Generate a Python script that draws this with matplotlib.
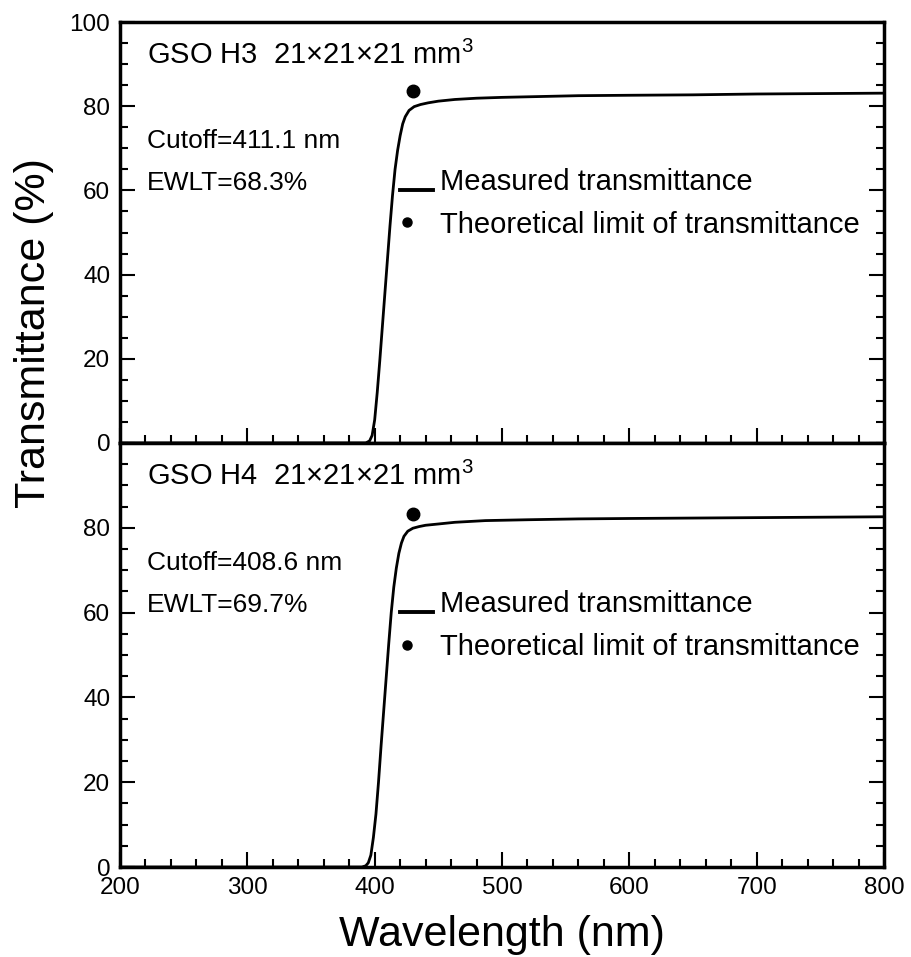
import numpy as np
import matplotlib
matplotlib.use("Agg")
from matplotlib import pyplot as plt
from matplotlib.lines import Line2D
from matplotlib.legend_handler import HandlerLine2D
from matplotlib.ticker import MultipleLocator

plt.rcParams['font.family'] = ['Liberation Sans', 'DejaVu Sans']
plt.rcParams['mathtext.fontset'] = 'custom'
plt.rcParams['mathtext.rm'] = 'Liberation Sans'

# GSO H3 - izmerjena prepustnost
wl_h3 = [200, 300, 380, 393, 396, 398, 400, 402, 404, 406, 408, 410, 412, 414, 416, 418, 420, 422,
         424, 427, 431, 436, 442, 450, 463, 480, 500, 530, 560, 600, 650, 700, 750, 800]
tr_h3 = [0, 0, 0, 0, 0.5, 1.8, 5.5, 12.0, 19.5, 27.5, 35.5, 43.5, 51.5, 58.8, 65.0, 69.5, 73.0, 75.8,
         77.5, 79.0, 79.9, 80.4, 80.8, 81.2, 81.6, 81.9, 82.1, 82.3, 82.5, 82.6, 82.7, 82.9, 83.0, 83.1]

# GSO H4 - izmerjena prepustnost
wl_h4 = [200, 300, 380, 390, 393, 395, 397, 399, 401, 403, 405, 407, 409, 411, 413, 415, 417, 419,
         421, 423, 426, 430, 435, 440, 450, 463, 487, 520, 560, 600, 650, 700, 750, 800]
tr_h4 = [0, 0, 0, 0, 0.3, 1.0, 2.8, 7.0, 12.5, 20.0, 28.5, 36.5, 44.5, 52.5, 60.0, 66.0, 70.5, 74.0,
         76.4, 78.0, 79.2, 79.9, 80.3, 80.6, 80.9, 81.3, 81.7, 81.9, 82.1, 82.2, 82.3, 82.4, 82.5, 82.6]

# teoreticna meja
teor_wl = [430, 430]
teor_tr = [83.6, 83.2]

naslovi = ["GSO H3  21\u00d721\u00d721 mm$^3$", "GSO H4  21\u00d721\u00d721 mm$^3$"]
cutoff = ["Cutoff=411.1 nm", "Cutoff=408.6 nm"]
ewlt = ["EWLT=68.3%", "EWLT=69.7%"]


# crta v legendi je na visini osnovne crte besedila
class RocajCrta(HandlerLine2D):
    def create_artists(self, legend, orig_handle, xdescent, ydescent, width, height, fontsize, trans):
        arts = super().create_artists(legend, orig_handle, xdescent, ydescent, width, height, fontsize, trans)
        for a in arts:
            a.set_ydata(np.asarray(a.get_ydata()) - 0.33 * fontsize)
        return arts


# pika v legendi je bolj levo
class RocajPika(HandlerLine2D):
    def create_artists(self, legend, orig_handle, xdescent, ydescent, width, height, fontsize, trans):
        arts = super().create_artists(legend, orig_handle, xdescent, ydescent, width, height, fontsize, trans)
        for a in arts:
            xs = np.asarray(a.get_xdata(), dtype=float)
            if len(xs) == 3:
                xs[1] = xs[0] + 0.21 * (xs[2] - xs[0])
                a.set_xdata(xs)
        return arts


fig = plt.figure(figsize=(9.12, 9.57), dpi=100)
ax1 = fig.add_axes([0.1316, 0.5371, 0.8377, 0.4399])
ax2 = fig.add_axes([0.1316, 0.0940, 0.8377, 0.4431], sharex=ax1)

podatki = [(wl_h3, tr_h3), (wl_h4, tr_h4)]
for i, ax in enumerate([ax1, ax2]):
    wl, tr = podatki[i]
    ax.plot(wl, tr, color="black", lw=2.0)
    ax.plot(teor_wl[i], teor_tr[i], "o", color="black", markersize=9)
    ax.set_xlim(200, 800)
    ax.set_ylim(0, 100)
    ax.xaxis.set_major_locator(MultipleLocator(100))
    ax.xaxis.set_minor_locator(MultipleLocator(20))
    ax.yaxis.set_major_locator(MultipleLocator(20))
    ax.yaxis.set_minor_locator(MultipleLocator(5))
    ax.tick_params(which="both", direction="in", top=False, right=True, width=1.5, labelsize=17.5, pad=7)
    ax.tick_params(which="major", length=11)
    ax.tick_params(which="minor", length=5.5)
    for s in ax.spines.values():
        s.set_linewidth(2.5)

    ax.text(0.0353, 0.90, naslovi[i], transform=ax.transAxes, fontsize=21, va="baseline")
    ax.text(0.0353, 0.701, cutoff[i], transform=ax.transAxes, fontsize=19, va="baseline")
    ax.text(0.0353, 0.601, ewlt[i], transform=ax.transAxes, fontsize=19, va="baseline")

    crta = Line2D([], [], color="black", lw=2.8)
    pika = Line2D([], [], color="black", marker="o", ls="none", markersize=6.5)
    ax.legend([crta, pika], ["Measured transmittance", "Theoretical limit of transmittance"],
              handler_map={crta: RocajCrta(), pika: RocajPika()},
              loc="upper left", bbox_to_anchor=(0.366, 0.653), frameon=False, fontsize=21,
              handlelength=1.13, handletextpad=0.24, labelspacing=0.5, borderpad=0, borderaxespad=0)

plt.setp(ax1.get_xticklabels(), visible=False)
ax2.set_yticks([0, 20, 40, 60, 80])
ax2.set_ylim(0, 100)

fig.text(0.037, 0.652, "Transmittance (%)", rotation=90, fontsize=31, ha="center", va="center")
fig.text(0.55, 0.023, "Wavelength (nm)", fontsize=31, ha="center", va="center")

fig.savefig("out.png", dpi=100)
